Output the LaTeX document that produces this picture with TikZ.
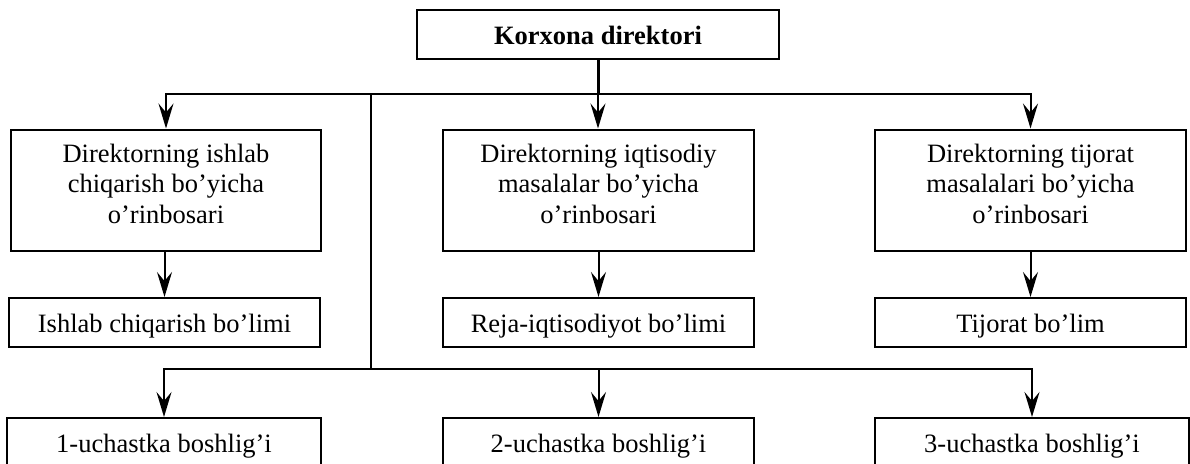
\documentclass[tikz,border=0pt]{standalone}
\usepackage{fontspec}
\setmainfont{Liberation Serif}
\usetikzlibrary{arrows.meta}
\begin{document}
\begin{tikzpicture}[x=1pt,y=-1pt,
  box/.style={draw, line width=2pt, inner sep=0pt, minimum height=49pt,
    text height=19pt, text depth=0pt, font=\fontsize{26.5}{30.5}\selectfont},
  bigbox/.style={draw, line width=2pt, inner sep=0pt, minimum height=121pt},
  bigtxt/.style={inner sep=0pt, align=center, font=\fontsize{26.5}{30.5}\selectfont},
  conn/.style={line width=2pt},
  stem/.style={line width=3pt},
  arr/.style={conn, -{Stealth[length=25pt,width=15pt,inset=9pt]}},
]
\useasboundingbox (0,0) rectangle (1190,463);
\clip (0,0) rectangle (1190,463);

% top
\node[box, minimum width=362pt] (dir) at (598,34.5) {\textbf{Korxona direktori}};

% row 1
\node[bigbox, minimum width=310pt] (d1) at (166,190) {};
\node[bigtxt] (d1t) at ([yshift=6.5pt]d1.center) {Direktorning ishlab\\chiqarish bo’yicha\\o’rinbosari};
\node[bigbox, minimum width=311pt] (d2) at (598.5,190) {};
\node[bigtxt] (d2t) at ([yshift=6.5pt]d2.center) {Direktorning iqtisodiy\\masalalar bo’yicha\\o’rinbosari};
\node[bigbox, minimum width=311pt] (d3) at (1030.5,190) {};
\node[bigtxt] (d3t) at ([yshift=6.5pt]d3.center) {Direktorning tijorat\\masalalari bo’yicha\\o’rinbosari};

% row 2
\node[box, minimum width=311pt] (b1) at (164.5,322.5) {Ishlab chiqarish bo’limi};
\node[box, minimum width=311pt] (b2) at (598.5,322.5) {Reja-iqtisodiyot bo’limi};
\node[box, minimum width=311pt] (b3) at (1030.5,322.5) {Tijorat bo’lim};

% row 3
\node[box, minimum width=314pt] (u1) at (164,442.5) {1-uchastka boshlig’i};
\node[box, minimum width=311pt] (u2) at (598.5,442.5) {2-uchastka boshlig’i};
\node[box, minimum width=314pt] (u3) at (1032,442.5) {3-uchastka boshlig’i};

% connectors
\coordinate (j1) at (598,94);
\coordinate (j2) at (371,94);
\coordinate (j3) at (371,369);
\draw[stem] (dir.south) -- (j1);
\draw[arr] (j1) -- (j1 |- d2.north);
\draw[arr] (j1) -| (d1.north);
\draw[arr] (j1) -| (d3.north);
\draw[conn] (j2) -- (j3);
\draw[arr] (j3) -| (u1.north);
\draw[arr] (j3) -| (u2.north);
\draw[arr] (j3) -| (u3.north);

\draw[arr] (b1.north |- d1.south) -- (b1.north);
\draw[arr] (d2.south) -- (b2.north);
\draw[arr] (d3.south) -- (b3.north);
\end{tikzpicture}
\end{document}
